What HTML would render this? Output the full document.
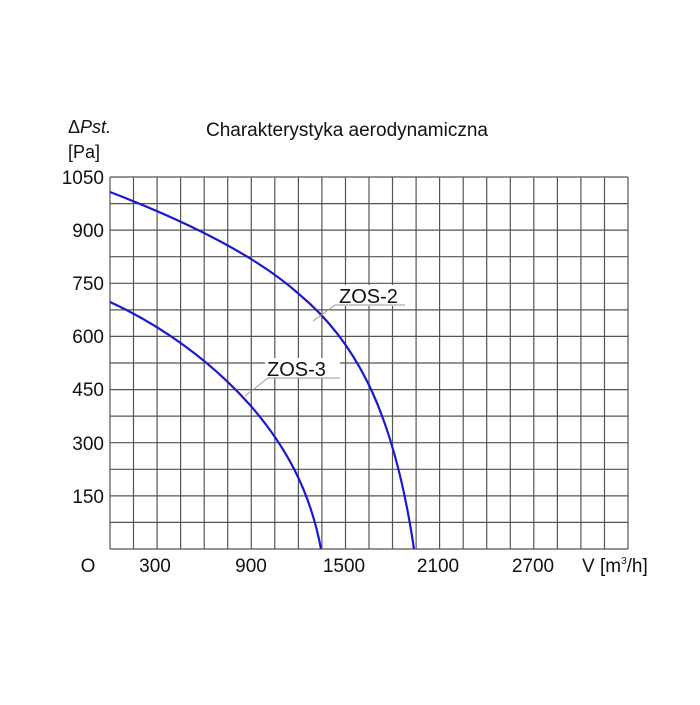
<!DOCTYPE html>
<html><head><meta charset="utf-8"><style>body{margin:0;background:#fff}</style></head>
<body>
<svg width="700" height="700" xmlns="http://www.w3.org/2000/svg" font-family="Liberation Sans, sans-serif">
<rect width="700" height="700" fill="#fff"/>
<path fill="none" stroke="#555" stroke-width="1.2" d="
M110,177V549 M133.5,177V549 M157.1,177V549 M180.6,177V549 M204.2,177V549 M227.7,177V549 M251.3,177V549 M274.8,177V549 M298.4,177V549 M321.9,177V549 M345.5,177V549 M369,177V549 M392.5,177V549 M416.1,177V549 M439.6,177V549 M463.2,177V549 M486.7,177V549 M510.3,177V549 M533.8,177V549 M557.4,177V549 M580.9,177V549 M604.5,177V549 M628,177V549
M110,177H628 M110,203.6H628 M110,230.1H628 M110,256.7H628 M110,283.3H628 M110,309.9H628 M110,336.4H628 M110,363H628 M110,389.6H628 M110,416.1H628 M110,442.7H628 M110,469.3H628 M110,495.9H628 M110,522.4H628 M110,549H628"/>
<g fill="none" stroke="#1a1acc" stroke-width="2.2">
<path d="M110,192 C170,215 250,250 300,295 C360,345 395,420 414,549"/>
<path d="M110,302 C160,325 210,360 250,405 C285,445 310,490 321,549"/>
</g>
<rect x="337" y="285" width="68" height="21" fill="#fff"/>
<rect x="265" y="358" width="75" height="20" fill="#fff"/>
<g stroke="#999" stroke-width="1" fill="none">
<path d="M313,321 L335,305 L405,305"/>
<path d="M245,396 L268,378 L340,378"/>
</g>
<g font-size="20" fill="#111">
<text x="339" y="303">ZOS-2</text>
<text x="267" y="376">ZOS-3</text>
<text x="206" y="136" font-size="19">Charakterystyka aerodynamiczna</text>
<text x="68" y="133" font-size="18">Δ<tspan font-style="italic">Pst.</tspan></text>
<text x="68" y="158" font-size="18">[Pa]</text>
</g>
<g font-size="19" fill="#111" text-anchor="end">
<text x="104" y="184">1050</text>
<text x="104" y="237">900</text>
<text x="104" y="290">750</text>
<text x="104" y="343">600</text>
<text x="104" y="396">450</text>
<text x="104" y="450">300</text>
<text x="104" y="503">150</text>
</g>
<g font-size="19" fill="#111" text-anchor="middle">
<text x="88" y="572">O</text>
<text x="155" y="572">300</text>
<text x="251" y="572">900</text>
<text x="344" y="572">1500</text>
<text x="438" y="572">2100</text>
<text x="533" y="572">2700</text>
</g>
<text x="582" y="572" font-size="19" fill="#111">V [m<tspan font-size="10" dy="-8">3</tspan><tspan dy="8">/h]</tspan></text>
</svg>
</body></html>
